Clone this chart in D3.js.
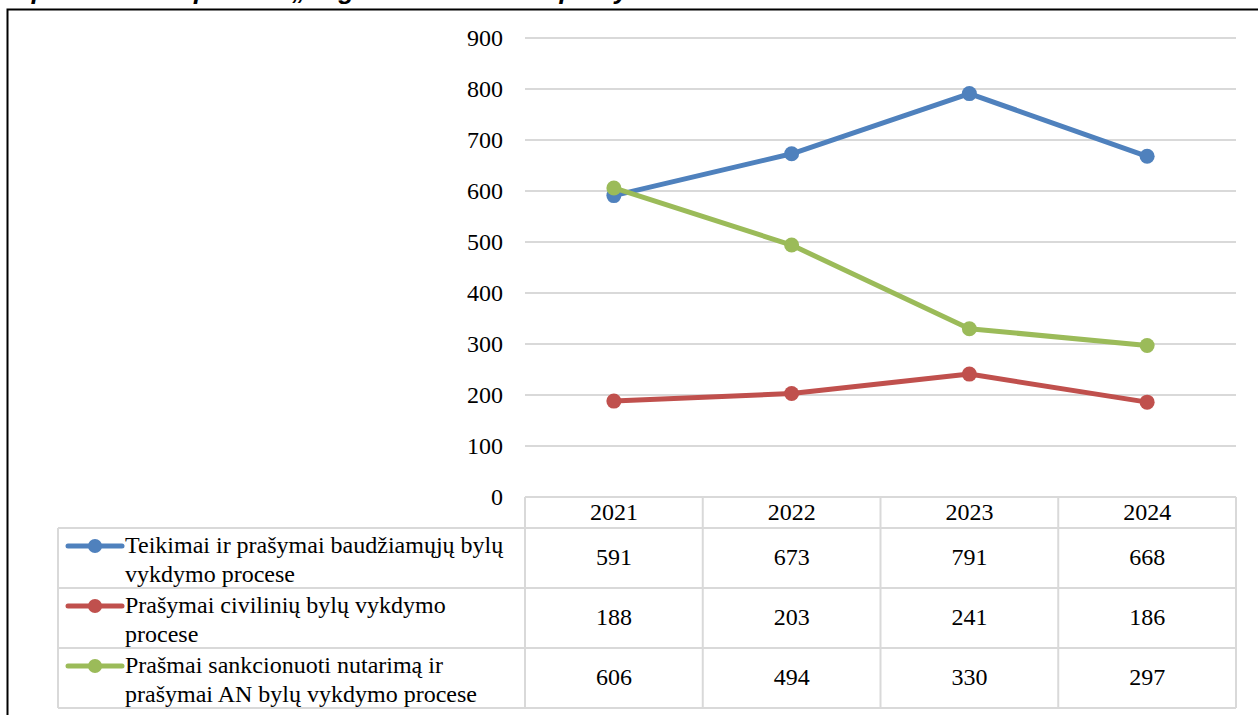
<!DOCTYPE html>
<html>
<head>
<meta charset="utf-8">
<script src="https://cdn.jsdelivr.net/npm/d3@7"></script>
<style>
  body { margin: 0; background: #fff; }
  svg { display: block; }
  .serif { font-family: 'Liberation Serif', 'Times New Roman', serif; font-size: 24px; fill: #000; }
</style>
</head>
<body>
<div id="chart"></div>
<script>
var years = ["2021", "2022", "2023", "2024"];
var seriesNames = [
    ["Teikimai ir prašymai baudžiamųjų bylų", "vykdymo procese"],
    ["Prašymai civilinių bylų vykdymo", "procese"],
    ["Prašmai sankcionuoti nutarimą ir", "prašymai AN bylų vykdymo procese"]
];
var seriesColors = ["#4f81bd", "#c0504d", "#9bbb59"];
var criminalValues = [591, 673, 791, 668];
var civilValues = [188, 203, 241, 186];
var sanctionValues = [606, 494, 330, 297];
var yTicks = [0, 100, 200, 300, 400, 500, 600, 700, 800, 900];

var series = [criminalValues, civilValues, sanctionValues];

var W = 1258, H = 715;
var svg = d3.select("#chart").append("svg")
        .attr("width", W)
        .attr("height", H);

// caption, cut off above the frame
svg.append("text")
        .attr("x", 10)
        .attr("y", -1)
        .style("font-family", "'Liberation Sans', Arial, sans-serif")
        .style("font-size", "26px")
        .style("font-weight", "bold")
        .style("font-style", "italic")
        .attr("fill", "#000")
        .text("1 pav. Teismui pateikti „Registro“ teikimai ir prašymai 2021–2024 m.");

// outer frame
svg.append("rect")
        .attr("x", 7.5)
        .attr("y", 9.5)
        .attr("width", W + 20)
        .attr("height", H + 20)
        .attr("fill", "none")
        .attr("stroke", "#000")
        .attr("stroke-width", 2);

var plot = {left: 525, right: 1236, top: 38, bottom: 497};

var x = d3.scaleBand()
        .domain(years)
        .range([plot.left, plot.right]);
var y = d3.scaleLinear()
        .domain([0, 900])
        .range([plot.bottom, plot.top]);

// gridlines
svg.append("g")
        .selectAll("line")
        .data(yTicks.filter(function (d) { return d > 0; }))
        .enter().append("line")
        .attr("x1", plot.left)
        .attr("x2", plot.right)
        .attr("y1", function (d) { return y(d); })
        .attr("y2", function (d) { return y(d); })
        .attr("stroke", "#d9d9d9")
        .attr("stroke-width", 2);

// y axis labels
var yAxis = d3.axisLeft(y).tickValues(yTicks).tickSize(0).tickPadding(0);
var ya = svg.append("g")
        .attr("transform", "translate(503,0)")
        .call(yAxis);
ya.attr("font-family", null).attr("font-size", null);
ya.select(".domain").remove();
ya.selectAll("text")
        .attr("class", "serif")
        .attr("fill", null)
        .attr("dy", "0.32em");

// data table under the plot
var table = {left: 58, headTop: 497, headBottom: 528, rows: [528, 588, 648, 708]};
var border = "#d9d9d9";
var tg = svg.append("g");

function hline(x1, x2, yy) {
    tg.append("line").attr("x1", x1).attr("x2", x2).attr("y1", yy).attr("y2", yy)
            .attr("stroke", border).attr("stroke-width", 2);
}
function vline(xx, y1, y2) {
    tg.append("line").attr("x1", xx).attr("x2", xx).attr("y1", y1).attr("y2", y2)
            .attr("stroke", border).attr("stroke-width", 2);
}

hline(plot.left, plot.right, table.headTop);
table.rows.forEach(function (r) { hline(table.left, plot.right, r); });
vline(table.left, table.headBottom, table.rows[3]);
years.forEach(function (yr) { vline(x(yr), table.headTop, table.rows[3]); });
vline(plot.right, table.headTop, table.rows[3]);

tg.selectAll("text.year")
        .data(years)
        .enter().append("text")
        .attr("class", "serif year")
        .attr("x", function (d) { return x(d) + x.bandwidth() / 2; })
        .attr("y", 520)
        .attr("text-anchor", "middle")
        .text(function (d) { return d; });

series.forEach(function (vals, i) {
    var r0 = table.rows[i], r1 = table.rows[i + 1];
    var mid = (r0 + r1) / 2;
    tg.selectAll("text.val" + i)
            .data(vals)
            .enter().append("text")
            .attr("class", "serif val" + i)
            .attr("x", function (d, j) { return x(years[j]) + x.bandwidth() / 2; })
            .attr("y", mid + 7)
            .attr("text-anchor", "middle")
            .text(function (d) { return d; });

    // legend key
    var ky = r0 + 18;
    tg.append("line")
            .attr("x1", 68).attr("x2", 122)
            .attr("y1", ky).attr("y2", ky)
            .attr("stroke", seriesColors[i])
            .attr("stroke-width", 5)
            .attr("stroke-linecap", "round");
    tg.append("circle")
            .attr("cx", 95).attr("cy", ky).attr("r", 7)
            .attr("fill", seriesColors[i]);
    var t = tg.append("text")
            .attr("class", "serif")
            .attr("x", 125);
    seriesNames[i].forEach(function (ln, k) {
        t.append("tspan").attr("x", 125).attr("y", r0 + 25 + k * 29).text(ln);
    });
});

// series lines + markers
var line = d3.line()
        .x(function (d, j) { return x(years[j]) + x.bandwidth() / 2; })
        .y(function (d) { return y(d); });

var lg = svg.append("g");
series.forEach(function (vals, i) {
    lg.append("path")
            .datum(vals)
            .attr("d", line)
            .attr("fill", "none")
            .attr("stroke", seriesColors[i])
            .attr("stroke-width", 5)
            .attr("stroke-linejoin", "round")
            .attr("stroke-linecap", "round");
    lg.selectAll("circle.s" + i)
            .data(vals)
            .enter().append("circle")
            .attr("class", "s" + i)
            .attr("cx", function (d, j) { return x(years[j]) + x.bandwidth() / 2; })
            .attr("cy", function (d) { return y(d); })
            .attr("r", 7.5)
            .attr("fill", seriesColors[i]);
});
</script>
</body>
</html>
